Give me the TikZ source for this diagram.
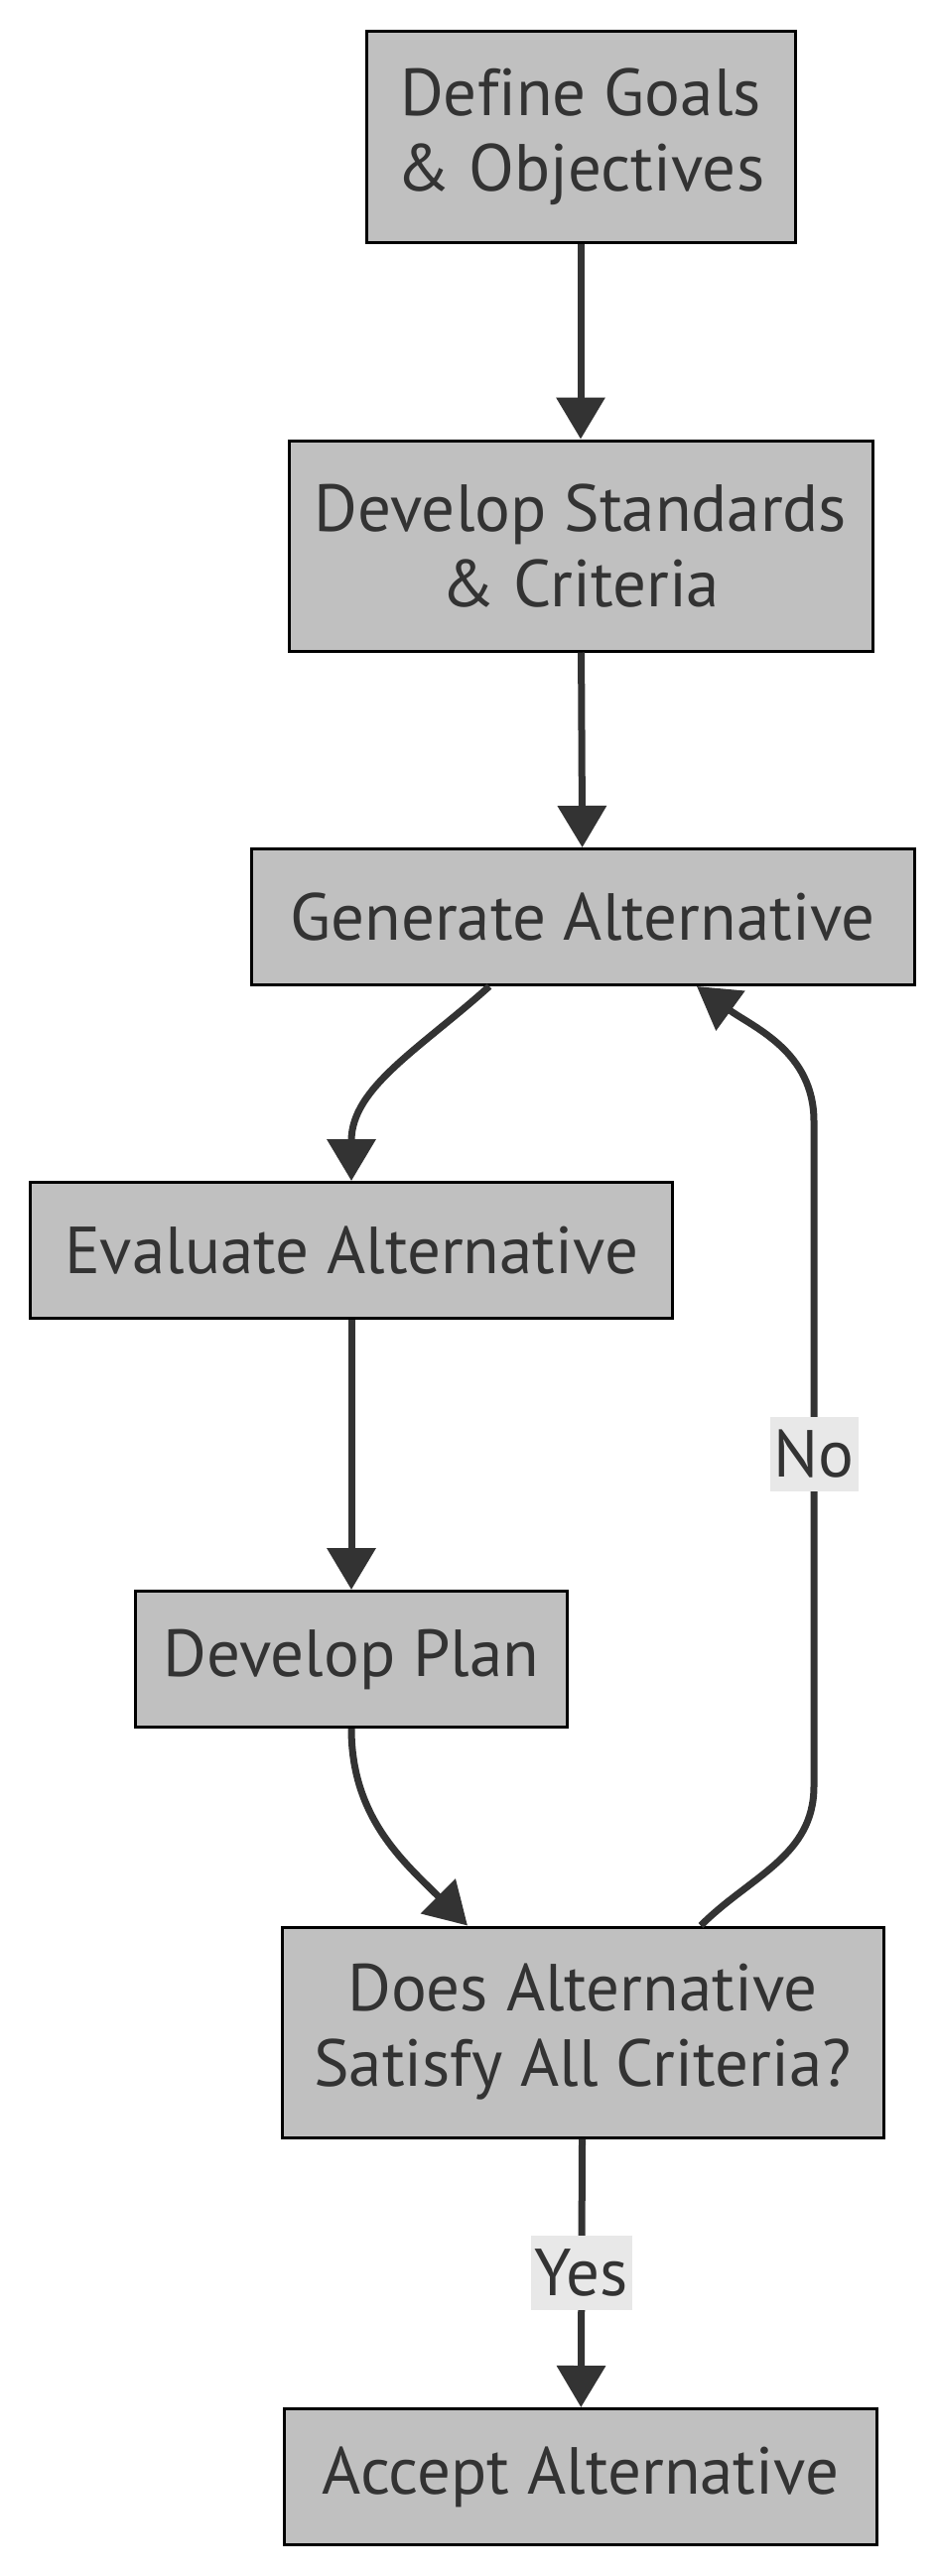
\documentclass[tikz,border=0pt]{standalone}
\usepackage{fontspec}
\setmainfont[Ligatures=NoCommon]{PT Sans}
\usetikzlibrary{arrows.meta}

\definecolor{boxfill}{HTML}{C0C0C0}
\definecolor{inkgray}{HTML}{333333}
\definecolor{labelfill}{HTML}{E8E8E8}

\begin{document}
\begin{tikzpicture}[x=1pt,y=1pt]
    \tikzset{step box/.style = {shape=rectangle,draw=black,line width=3pt,fill=boxfill,
                                text=inkgray,align=center,inner sep=0pt,
                                font=\fontsize{67pt}{76pt}\selectfont},
             flow/.style = {draw=inkgray,line width=7pt,-{Triangle[width=48pt,length=42pt]}},
             edge label/.style = {fill=labelfill,text=inkgray,inner xsep=4pt,inner ysep=0pt,
                                  minimum height=75pt,font=\fontsize{67pt}{76pt}\selectfont}}
    \useasboundingbox (0,0) rectangle (944,-2596);

    % Steps of the process
    \foreach \name/\pos/\w/\h/\txt in {goals/{(585,-138)}/432/212/{Define Goals\\\& Objectives},
                                     stds/{(585,-550)}/588/212/{Develop Standards\\\& Criteria},
                                     gen/{(587,-924)}/668/137/{Generate Alternative},
                                     eval/{(354,-1260)}/647/137/{Evaluate Alternative},
                                     plan/{(354,-1672)}/435/137/{Develop Plan},
                                     dec/{(587,-2048)}/606/212/{Does Alternative\\Satisfy All Criteria?},
                                     acc/{(585,-2496)}/597/137/{Accept Alternative}}
        \node[step box,minimum width=\w pt,minimum height=\h pt] (\name) at \pos {\txt};

    % Straight connectors
    \foreach \source/\target in {goals/stds, stds/gen, eval/plan}
        \draw[flow] (\source) -- (\target);

    % Curved connectors
    \draw[flow] ([xshift=-94pt]gen.south) to[out=-138,in=90] (eval.north);
    \draw[flow] (plan.south) to[out=-90,in=135] ([xshift=-116pt]dec.north);
    \draw[flow] ([xshift=119pt]dec.north) to[out=45,in=-90] (820,-1800)
        -- node[edge label] {No} (820,-1130) to[out=90,in=-36] ([xshift=115pt]gen.south);
    \draw[flow] (dec) -- node[edge label] {Yes} (acc);
\end{tikzpicture}
\end{document}
